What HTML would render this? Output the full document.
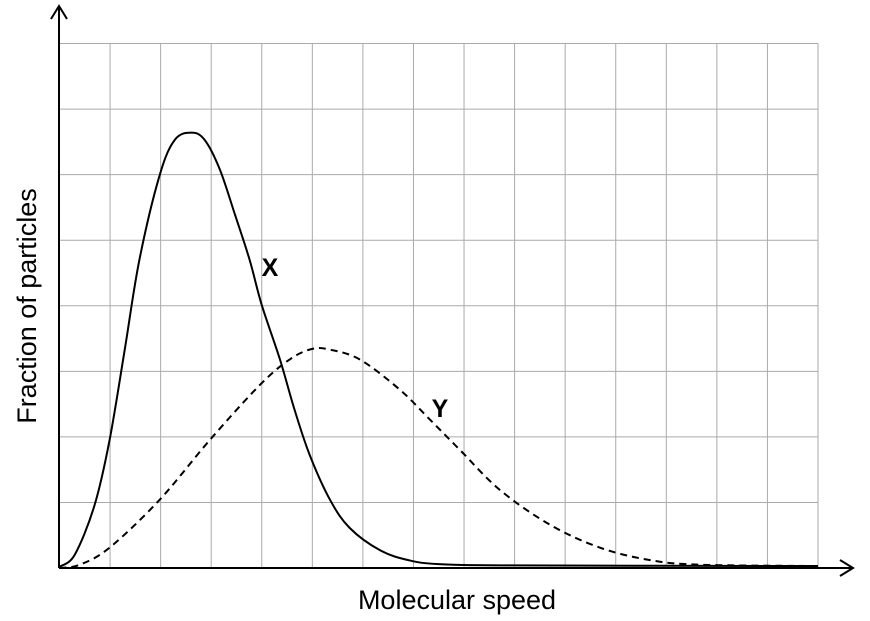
<!DOCTYPE html>
<html><head><meta charset="utf-8"><style>
html,body{margin:0;padding:0;background:#fff;}
svg{display:block;font-family:"Liberation Sans",Arial,sans-serif;}
</style></head><body>
<svg id="chart" width="870" height="621" viewBox="0 0 870 621">
<g id="grid"></g>
<g id="series"></g>
<line x1="59" y1="568" x2="59" y2="6" stroke="#000" stroke-width="2"/>
<polyline points="51,19 59,6 67,19" fill="none" stroke="#000" stroke-width="2"/>
<line x1="59" y1="568" x2="853" y2="568" stroke="#000" stroke-width="2"/>
<polyline points="840,560 853,568 840,576" fill="none" stroke="#000" stroke-width="2"/>
<text x="457" y="609" font-size="27" text-anchor="middle">Molecular speed</text>
<text transform="translate(36,306) rotate(-90)" font-size="27" text-anchor="middle">Fraction of particles</text>
<text x="270" y="276" font-size="25" font-weight="bold" text-anchor="middle">X</text>
<text x="440" y="417" font-size="25" font-weight="bold" text-anchor="middle">Y</text>
</svg>
<script>
const xCols = 15, yRows = 8;
const seriesXx = [0,0.3,0.69,0.99,1.29,1.58,1.98,2.28,2.61,2.87,3.17,3.47,3.76,4.0,4.36,4.65,4.95,5.35,5.74,6.34,6.9,7.5,9,15];
const seriesXy = [0.02,0.2,0.95,1.95,3.33,4.7,5.99,6.53,6.64,6.53,6.08,5.39,4.7,4.01,3.18,2.41,1.72,1.04,0.61,0.27,0.12,0.06,0.04,0.03];
const seriesYx = [0,0.4,0.99,1.98,2.97,3.96,4.55,4.99,5.35,5.94,6.73,7.33,7.92,8.71,9.7,10.69,11.68,12.67,15];
const seriesYy = [0,0.05,0.31,1.04,1.95,2.79,3.18,3.34,3.33,3.18,2.72,2.26,1.8,1.19,0.66,0.31,0.12,0.05,0.03];
const X0=59.5, X1=818, Y0=568, Y1=43.5;
const sx = v => X0 + v*(X1-X0)/xCols;
const sy = v => Y0 - v*(Y0-Y1)/yRows;
const NS="http://www.w3.org/2000/svg";
const grid=document.getElementById('grid');
for(let i=1;i<=xCols;i++){
  const l=document.createElementNS(NS,'line');
  l.setAttribute('x1',sx(i));l.setAttribute('x2',sx(i));l.setAttribute('y1',Y0);l.setAttribute('y2',Y1);
  l.setAttribute('stroke','#aaa');l.setAttribute('stroke-width','1');
  
  
  grid.appendChild(l);
}
for(let j=1;j<=yRows;j++){
  const l=document.createElementNS(NS,'line');
  l.setAttribute('x1',X0);l.setAttribute('x2',X1);l.setAttribute('y1',sy(j));l.setAttribute('y2',sy(j));
  l.setAttribute('stroke','#aaa');l.setAttribute('stroke-width','1');
  
  
  grid.appendChild(l);
}
function pathFor(xs,ys){
  const p=xs.map((x,i)=>[sx(x),sy(ys[i])]);
  let d=`M${p[0][0]},${p[0][1]}`;
  for(let i=0;i<p.length-1;i++){
    const a=p[Math.max(i-1,0)],b=p[i],c=p[i+1],e=p[Math.min(i+2,p.length-1)];
    const c1=[b[0]+(c[0]-a[0])/6,b[1]+(c[1]-a[1])/6];
    const c2=[c[0]-(e[0]-b[0])/6,c[1]-(e[1]-b[1])/6];
    d+=` C${c1[0]},${c1[1]} ${c2[0]},${c2[1]} ${c[0]},${c[1]}`;
  }
  return d;
}
const ser=document.getElementById('series');
const px=document.createElementNS(NS,'path');
px.setAttribute('d',pathFor(seriesXx,seriesXy));
px.setAttribute('fill','none');px.setAttribute('stroke','#000');px.setAttribute('stroke-width','2');


ser.appendChild(px);
const py=document.createElementNS(NS,'path');
py.setAttribute('d',pathFor(seriesYx,seriesYy));
py.setAttribute('fill','none');py.setAttribute('stroke','#000');py.setAttribute('stroke-width','2');
py.setAttribute('stroke-dasharray','7,5');


ser.appendChild(py);
</script>
</body></html>
